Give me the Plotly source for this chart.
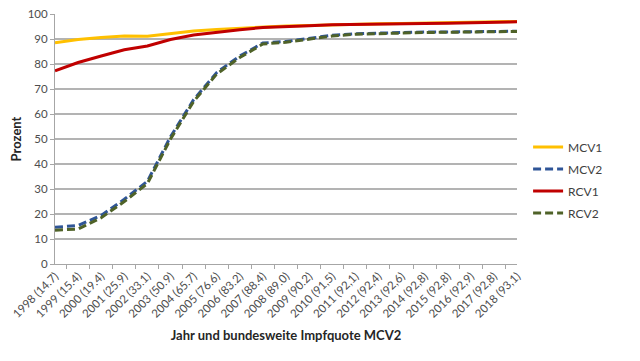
import plotly.graph_objects as go

labels = ["1998 (14.7)", "1999 (15.4)", "2000 (19.4)", "2001 (25.9)", "2002 (33.1)",
          "2003 (50.9)", "2004 (65.7)", "2005 (76.6)", "2006 (83.2)", "2007 (88.4)",
          "2008 (89.0)", "2009 (90.2)", "2010 (91,5)", "2011 (92,1)", "2012 (92,4)",
          "2013 (92,6)", "2014 (92,8)", "2015 (92,8)", "2016 (92,9)", "2017 (92,8)",
          "2018 (93,1)"]

mcv1 = [88.5, 89.8, 90.6, 91.2, 91.1, 92.3, 93.2, 93.8, 94.3, 94.8, 95.2,
        95.4, 95.7, 96.0, 96.1, 96.2, 96.3, 96.4, 96.6, 96.7, 97.0]
mcv2 = [14.7, 15.4, 19.4, 25.9, 33.1, 50.9, 65.7, 76.6, 83.2, 88.4, 89.0,
        90.2, 91.5, 92.1, 92.4, 92.6, 92.8, 92.8, 92.9, 92.8, 93.1]
rcv1 = [77.3, 80.6, 83.2, 85.7, 87.2, 89.8, 91.6, 92.8, 93.7, 94.6, 95.1,
        95.3, 95.7, 95.9, 96.0, 96.1, 96.2, 96.3, 96.6, 96.7, 96.9]
rcv2 = [13.5, 14.0, 18.5, 25.0, 32.2, 50.0, 65.0, 76.0, 82.6, 88.0, 88.7,
        90.0, 91.2, 91.9, 92.2, 92.4, 92.6, 92.7, 92.8, 92.8, 93.0]

series = [
    ("MCV1", mcv1, "#FFC000", "solid"),
    ("MCV2", mcv2, "#2F5597", "8px,4px"),
    ("RCV1", rcv1, "#C00000", "solid"),
    ("RCV2", rcv2, "#4F6228", "8px,4px"),
]

fig = go.Figure()
for name, vals, color, dash in series:
    fig.add_trace(go.Scatter(x=labels, y=vals, name=name, mode="lines",
                             legendgroup=name,
                             line=dict(color=color, width=3, dash=dash)))

fig.update_layout(
    width=640, height=361,
    margin=dict(l=47, r=131, t=6, b=105),
    paper_bgcolor="white", plot_bgcolor="white",
    font=dict(family="Lato, Open Sans, sans-serif", color="#595959", size=11),
    showlegend=True,
    legend=dict(x=1.024, xanchor="left", y=0.336, yanchor="middle",
                font=dict(size=12, color="#404040"), tracegroupgap=3,
                bgcolor="rgba(0,0,0,0)"),
)
fig.update_xaxes(
    type="category", tickangle=-45, tickson="boundaries", ticks="outside",
    ticklen=4, tickcolor="#A6A6A6", showline=True, linecolor="#A6A6A6",
    linewidth=1, showgrid=False, automargin=False, ticklabeloverflow="allow",
    tickfont=dict(size=11.5, color="#4D4D4D"),
    title=dict(text="<b>Jahr und bundesweite Impfquote MCV2</b>",
               font=dict(size=13, color="#262626"), standoff=12),
)
fig.update_yaxes(
    range=[0, 100], dtick=10, ticks="outside", ticklen=4, tickcolor="#A6A6A6",
    showline=True, linecolor="#A6A6A6", linewidth=1, automargin=False,
    ticklabeloverflow="allow",
    showgrid=True, gridcolor="#B3B3B3", gridwidth=1.5, zeroline=False,
    tickfont=dict(size=11.5, color="#4D4D4D"),
    title=dict(text="<b>Prozent</b>", font=dict(size=13, color="#262626"),
               standoff=3),
)

fig.write_html("out.html")
